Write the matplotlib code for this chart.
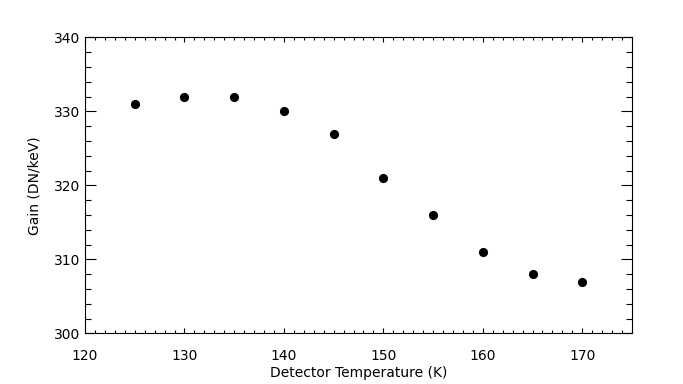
import matplotlib
matplotlib.use("Agg")
import matplotlib.pyplot as plt
from matplotlib.ticker import MultipleLocator

temperature = [125, 130, 135, 140, 145, 150, 155, 160, 165, 170]
gain = [331, 332, 332, 330, 327, 321, 316, 311, 308, 307]

x_label = "Detector Temperature (K)"
y_label = "Gain (DN/keV)"

plt.rcParams['font.family'] = ['DejaVu Sans']
fig = plt.figure(figsize=(6.83, 3.84), dpi=100)
ax = fig.add_axes([85/683, (384-333.3)/384, (632-85)/683, (333.3-37.3)/384])

ax.plot(temperature, gain, 'o', color='black', markersize=6.6, markeredgewidth=0)

ax.set_xlim(120, 175)
ax.set_ylim(300, 340)
ax.xaxis.set_major_locator(MultipleLocator(10))
ax.xaxis.set_minor_locator(MultipleLocator(1))
ax.yaxis.set_major_locator(MultipleLocator(10))
ax.yaxis.set_minor_locator(MultipleLocator(2))

for s in ax.spines.values():
    s.set_linewidth(0.8)
    s.set_color('black')

ax.tick_params(axis='x', which='major', direction='in', length=3.6, width=0.8,
               top=True, bottom=True, pad=11, labelsize=10)
ax.tick_params(axis='x', which='minor', direction='in', length=2.0, width=0.8,
               top=True, bottom=True)
ax.tick_params(axis='y', which='major', direction='in', length=7.9, width=0.8,
               left=True, right=True, pad=3.5, labelsize=10)
ax.tick_params(axis='y', which='minor', direction='in', length=4.3, width=0.8,
               left=True, right=True)

ax.set_xlabel(x_label, fontsize=10)
ax.set_ylabel(y_label, fontsize=10)
ax.xaxis.set_label_coords(0.5, -0.112)
ax.yaxis.set_label_coords(-0.079, 0.5)

fig.savefig("out.png", dpi=100)
